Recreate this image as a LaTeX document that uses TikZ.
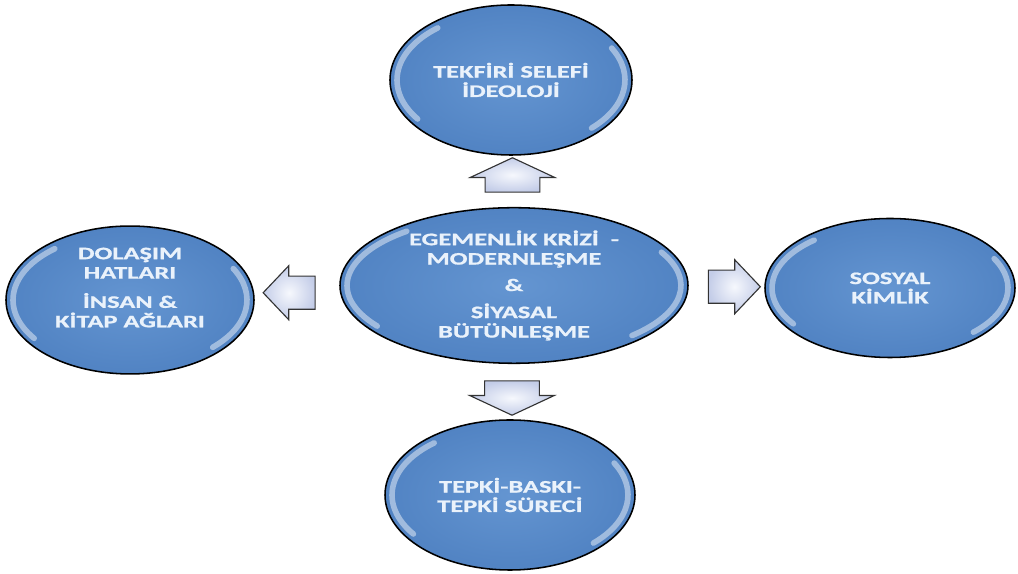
\documentclass[tikz,border=0pt]{standalone}
\usepackage{fontspec}
\usepackage{tikz}
\usetikzlibrary{calc,shapes.geometric,shapes.arrows}
\newfontfamily\bubblefont{Carlito}[FakeStretch=1.5, FakeBold=1]
\definecolor{bubbledark}{HTML}{5183C3}
\definecolor{bubblelight}{HTML}{6495D1}
\definecolor{bubbletext}{HTML}{EAF2FB}
\definecolor{arrowlilac}{HTML}{C4CDE8}
\definecolor{arrowpale}{HTML}{F6F8FD}
\definecolor{arrowline}{HTML}{333333}

\begin{document}
\begin{tikzpicture}[
  bubble/.style={ellipse, draw=black, line width=1.1pt, inner sep=0pt,
                 inner color=bubblelight, outer color=bubbledark,
                 text=bubbletext, align=center,
                 font=\bubblefont\bfseries\fontsize{12.5}{13.8}\selectfont,
                 path picture={
                   \draw[white, line width=4pt, opacity=.45, line cap=round]
                     let \p1=($(path picture bounding box.north east)-(path picture bounding box.center)$) in
                     ($(path picture bounding box.center)+(215:{\x1-5pt} and {\y1-5pt})$)
                       arc[start angle=215, end angle=130, x radius=\x1-5pt, y radius=\y1-5pt]
                     ($(path picture bounding box.center)+(-45:{\x1-5pt} and {\y1-5pt})$)
                       arc[start angle=-45, end angle=28, x radius=\x1-5pt, y radius=\y1-5pt];
                 }},
  blockarrow/.style={single arrow, draw=arrowline, line width=.8pt,
                     inner color=arrowpale, outer color=arrowlilac, inner xsep=0pt},
  vertarrow/.style={blockarrow, minimum height=0.86cm, inner ysep=0.67cm,
                    single arrow head extend=0.375cm, single arrow tip angle=130},
  horiarrow/.style={blockarrow, minimum height=1.3cm, inner ysep=0.4cm,
                    single arrow head extend=0.26cm, single arrow tip angle=93}
]
\useasboundingbox (0,0) rectangle (25.45,14.35);
\node[bubble, minimum width=6.05cm, minimum height=3.75cm] (ideology) at (12.775,12.35) {TEKFİRİ SELEFİ\\İDEOLOJİ};
\node[bubble, minimum width=8.7cm, minimum height=3.625cm] (crisis) at (12.85,7.2125) {EGEMENLİK KRİZİ~ -\\MODERNLEŞME\\[5pt]\&\\[5.5pt]SİYASAL\\BÜTÜNLEŞME};
\node[bubble, minimum width=6.2cm, minimum height=3.425cm] (networks) at (3.25,6.85) {DOLAŞIM\\HATLARI\\[7pt]İNSAN \&\\KİTAP AĞLARI\\[4pt]};
\node[bubble, minimum width=6.25cm, minimum height=3.475cm] (identity) at (22.25,7.15) {SOSYAL\\KİMLİK};
\node[bubble, minimum width=6.25cm, minimum height=3.75cm] (reaction) at (12.75,1.975) {TEPKİ-BASKI-\\TEPKİ SÜRECİ};
\node[vertarrow, rotate=90] (upshift) at ($(crisis.north)!0.5!(ideology.south)$) {};
\node[vertarrow, rotate=-90] (downshift) at ($(crisis.south)!0.5!(reaction.north)$) {};
\node[horiarrow, rotate=180] (leftshift) at ($(crisis.west)!0.5!(networks.east)$) {};
\node[horiarrow] (rightshift) at ($(crisis.east)!0.5!(identity.west)$) {};
\end{tikzpicture}
\end{document}
